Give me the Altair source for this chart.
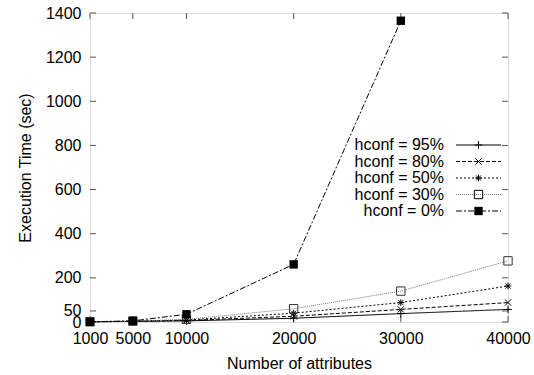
import altair as alt
import pandas as pd

# Number of attributes on the x axis
attributes = [1000, 5000, 10000, 20000, 30000, 40000]

# Execution time (sec) per hconf threshold
series_names = ["hconf = 95%", "hconf = 80%", "hconf = 50%", "hconf = 30%", "hconf = 0%"]
time_95 = [1, 3, 5, 17, 38, 57]
time_80 = [1, 3, 7, 26, 57, 88]
time_50 = [1, 3, 9, 40, 88, 163]
time_30 = [1, 4, 12, 60, 140, 277]
time_0 = [1, 5, 35, 261, 1365, None]

x_ticks = [1000, 5000, 10000, 20000, 30000, 40000]
y_ticks = [0, 50, 200, 400, 600, 800, 1000, 1200, 1400]

W, H = 418, 309
FONT = "Liberation Sans"
FS = 16

PLUS = "M-1,0L1,0M0,-1L0,1"
CROSS = "M-1,-1L1,1M-1,1L1,-1"
STAR = "M-1,0L1,0M0,-1L0,1M-0.75,-0.75L0.75,0.75M-0.75,0.75L0.75,-0.75"

styles = {
    "hconf = 95%": dict(dash=[1, 0], color="#000000", shape=PLUS, filled=False, size=60),
    "hconf = 80%": dict(dash=[4, 2], color="#000000", shape=CROSS, filled=False, size=40),
    "hconf = 50%": dict(dash=[2, 2], color="#000000", shape=STAR, filled=False, size=45),
    "hconf = 30%": dict(dash=[1, 1], color="#777777", shape="square", filled=False, size=70),
    "hconf = 0%": dict(dash=[6, 2, 2, 2], color="#000000", shape="square", filled=True, size=70),
}

values = dict(zip(series_names, [time_95, time_80, time_50, time_30, time_0]))

x_scale = alt.Scale(domain=[1000, 40000], nice=False, zero=False)
y_scale = alt.Scale(domain=[0, 1400], nice=False)

axis_common = dict(format="d", ticks=False, domain=False, grid=False,
                   labelFont=FONT, labelFontSize=FS, labelColor="#000",
                   labelOverlap=False, labelFlush=False, labelBound=False,
                   titleFont=FONT, titleFontSize=FS, titleFontWeight="normal", titleColor="#000")
x_axis = alt.Axis(values=x_ticks, labelPadding=8, titlePadding=9, **axis_common)
y_axis = alt.Axis(values=y_ticks, labelPadding=9, titlePadding=12, **axis_common)


# Every layer shares the same axis definition so the merged axes keep it
def xq():
    return alt.X("attrs:Q", scale=x_scale, axis=x_axis, title="Number of attributes")


def yq():
    return alt.Y("time:Q", scale=y_scale, axis=y_axis, title="Execution Time (sec)")


layers = []
for name in series_names:
    st = styles[name]
    df = pd.DataFrame({"attrs": attributes, "time": values[name]}).dropna()
    base = alt.Chart(df).encode(x=xq(), y=yq())
    layers.append(base.mark_line(color=st["color"], strokeDash=st["dash"], strokeWidth=1))
    marker_color = "#000000" if name != "hconf = 30%" else "#333333"
    layers.append(base.mark_point(shape=st["shape"], filled=st["filled"], size=st["size"],
                                  color=marker_color, strokeWidth=1, opacity=1))

# Inward tick marks on all four sides
xt = pd.DataFrame({"attrs": x_ticks})
yt = pd.DataFrame({"time": y_ticks})
tick_style = dict(color="#555555", strokeWidth=1)
ticks = [
    alt.Chart(xt).mark_rule(**tick_style).encode(x=xq(), y=alt.value(H), y2=alt.value(H - 6)),
    alt.Chart(xt).mark_rule(**tick_style).encode(x=xq(), y=alt.value(0), y2=alt.value(6)),
    alt.Chart(yt).mark_rule(**tick_style).encode(y=yq(), x=alt.value(0), x2=alt.value(6)),
    alt.Chart(yt).mark_rule(**tick_style).encode(y=yq(), x=alt.value(W), x2=alt.value(W - 6)),
]

# Key in the upper right: label, line sample and marker for each series
key_layers = []
for i, name in enumerate(series_names):
    st = styles[name]
    ky = 132 + i * 16.5
    kdf = pd.DataFrame({"label": [name]})
    key_layers.append(alt.Chart(kdf).mark_text(align="right", baseline="middle", font=FONT,
                                               fontSize=FS, color="#000").encode(
        text="label:N", x=alt.value(354), y=alt.value(ky)))
    key_layers.append(alt.Chart(kdf).mark_rule(color=st["color"], strokeDash=st["dash"], strokeWidth=1).encode(
        x=alt.value(366), x2=alt.value(411), y=alt.value(ky)))
    key_layers.append(alt.Chart(kdf).mark_point(shape=st["shape"], filled=st["filled"], size=st["size"],
                                                color="#000000", strokeWidth=1, opacity=1).encode(
        x=alt.value(388.5), y=alt.value(ky)))

chart = alt.layer(*ticks, *layers, *key_layers).properties(
    width=W, height=H,
    padding={"left": 90, "top": 13, "right": 26, "bottom": 53},
    autosize=alt.AutoSizeParams(type="none"),
).configure_view(stroke="#666666", strokeWidth=1).configure(background="white")

chart.save("out.html", embed_options={"renderer": "svg", "actions": False})
